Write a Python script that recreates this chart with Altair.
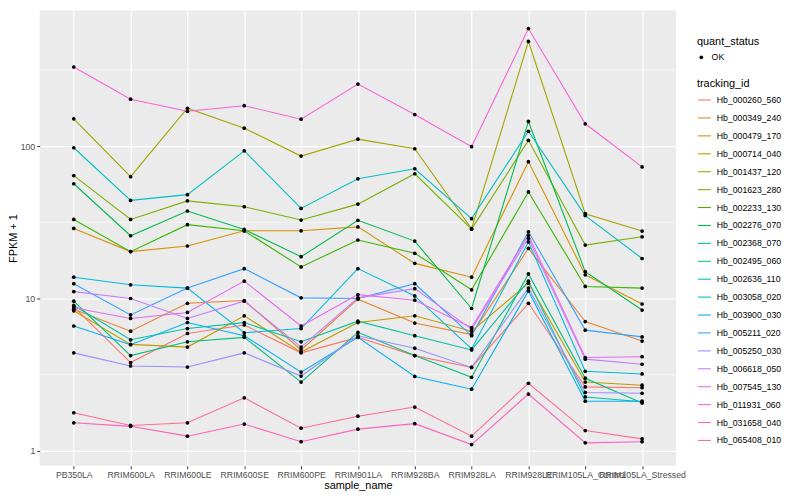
import altair as alt
import pandas as pd

samples = ["PB350LA", "RRIM600LA", "RRIM600LE", "RRIM600SE", "RRIM600PE", "RRIM901LA",
           "RRIM928BA", "RRIM928LA", "RRIM928LE", "RRIM105LA_Control", "RRIM105LA_Stressed"]

tracking_ids = ["Hb_000260_560", "Hb_000349_240", "Hb_000479_170", "Hb_000714_040",
                "Hb_001437_120", "Hb_001623_280", "Hb_002233_130", "Hb_002276_070",
                "Hb_002368_070", "Hb_002495_060", "Hb_002636_110", "Hb_003058_020",
                "Hb_003900_030", "Hb_005211_020", "Hb_005250_030", "Hb_006618_050",
                "Hb_007545_130", "Hb_011931_060", "Hb_031658_040", "Hb_065408_010"]

line_colors = ["#F8766D", "#EA8331", "#D89000", "#C09B00", "#A3A500", "#7CAE00", "#39B600",
               "#00BB4E", "#00BF7D", "#00C1A3", "#00BFC4", "#00BAE0", "#00B0F6", "#35A2FF",
               "#9590FF", "#C77CFF", "#E76BF3", "#FA62DB", "#FF62BC", "#FF6C91"]

# FPKM + 1 per sample (same order as samples)
hb_000260_560 = [8.8, 3.8, 5.9, 6.7, 4.4, 5.56, 4.22, 3.53, 9.3, 2.63, 2.6]
hb_000349_240 = [8.5, 6.1, 9.3, 9.7, 4.6, 9.9, 6.9, 5.8, 21.3, 7.06, 5.26]
hb_000479_170 = [28.8, 20.3, 22.1, 27.8, 27.8, 29.5, 17.0, 13.8, 79, 14.3, 9.2]
hb_000714_040 = [8.3, 5.0, 4.8, 7.7, 4.45, 6.95, 7.7, 6.1, 12.6, 2.83, 2.7]
hb_001437_120 = [151, 63, 177, 131, 86, 111, 96, 28.7, 486, 36, 27.7]
hb_001623_280 = [64, 33, 43.7, 40, 32.7, 41.6, 65.8, 28.5, 109, 22.4, 25.4]
hb_002233_130 = [33, 20.3, 30.5, 27.8, 16.1, 24.2, 19.8, 11.4, 50, 12.0, 11.7]
hb_002276_070 = [56.6, 25.8, 37.5, 28.4, 18.8, 32.6, 23.8, 8.6, 145, 15.0, 8.4]
hb_002368_070 = [9.6, 4.22, 5.2, 5.56, 2.83, 6.0, 4.22, 3.04, 14.5, 3.0, 2.06]
hb_002495_060 = [9.0, 5.36, 6.35, 6.95, 5.2, 7.1, 5.7, 4.6, 13.0, 2.26, 2.1]
hb_002636_110 = [97.5, 44, 48, 93, 39, 61, 71, 33.4, 125, 35, 18.3]
hb_003058_020 = [13.8, 12.3, 11.7, 5.96, 6.35, 15.7, 10.4, 4.67, 23.5, 3.33, 3.2]
hb_003900_030 = [6.6, 4.98, 6.95, 5.7, 3.29, 5.56, 3.08, 2.54, 11.2, 2.12, 2.12]
hb_005211_020 = [12.5, 7.8, 11.7, 15.7, 10.1, 10.0, 12.5, 5.7, 27.4, 6.2, 5.6]
hb_005250_030 = [4.4, 3.61, 3.55, 4.4, 3.1, 5.7, 4.72, 3.53, 11.7, 2.42, 2.39]
hb_006618_050 = [11.1, 10.0, 7.4, 9.6, 4.8, 10.1, 11.6, 6.3, 24.8, 4.0, 3.7]
hb_007545_130 = [8.7, 7.4, 8.1, 13.0, 6.6, 10.6, 9.75, 6.45, 26, 4.1, 4.15]
hb_011931_060 = [330, 203, 169, 184, 150, 255, 161, 99, 590, 140, 73]
hb_031658_040 = [1.53, 1.45, 1.25, 1.5, 1.15, 1.39, 1.51, 1.1, 2.36, 1.13, 1.15]
hb_065408_010 = [1.78, 1.47, 1.53, 2.23, 1.41, 1.69, 1.94, 1.25, 2.78, 1.36, 1.2]

series = [hb_000260_560, hb_000349_240, hb_000479_170, hb_000714_040, hb_001437_120,
          hb_001623_280, hb_002233_130, hb_002276_070, hb_002368_070, hb_002495_060,
          hb_002636_110, hb_003058_020, hb_003900_030, hb_005211_020, hb_005250_030,
          hb_006618_050, hb_007545_130, hb_011931_060, hb_031658_040, hb_065408_010]

y_major = [1, 10, 100]
y_minor = [3.1623, 31.623, 316.23]

rows = []
for tid, vals in zip(tracking_ids, series):
    for s, v in zip(samples, vals):
        rows.append({"tracking_id": tid, "sample_name": s, "fpkm": v, "quant_status": "OK"})
df = pd.DataFrame(rows)
minor_df = pd.DataFrame({"fpkm": y_minor})

FONT = "Liberation Sans"

x_enc = alt.X("sample_name:N", sort=samples, scale=alt.Scale(padding=0.6),
              axis=alt.Axis(labelAngle=0, title="sample_name", titlePadding=0.5,
                            labelPadding=1.5))
y_enc = alt.Y("fpkm:Q",
              scale=alt.Scale(type="log", domain=[0.7989, 775.6], nice=False, zero=False),
              axis=alt.Axis(values=y_major, format="d", title="FPKM + 1", titlePadding=1.5,
                            labelPadding=2))

minor = alt.Chart(minor_df).mark_rule(color="white", strokeWidth=0.6).encode(y=y_enc)

lines = alt.Chart(df).mark_line(strokeWidth=1.1).encode(
    x=x_enc,
    y=y_enc,
    color=alt.Color("tracking_id:N",
                    scale=alt.Scale(domain=tracking_ids, range=line_colors),
                    legend=alt.Legend(title="tracking_id", orient="none",
                                      legendX=664, legendY=68,
                                      symbolType="stroke", symbolSize=170,
                                      symbolStrokeWidth=1.1, rowPadding=5.1,
                                      labelOffset=5, titlePadding=4)),
    detail="tracking_id:N",
)

points = alt.Chart(df).mark_point(filled=True, color="black", size=14, opacity=1).encode(
    x=x_enc,
    y=y_enc,
    shape=alt.Shape("quant_status:N",
                    scale=alt.Scale(domain=["OK"], range=["circle"]),
                    legend=alt.Legend(title="quant_status", orient="none",
                                      legendX=664, legendY=26,
                                      symbolSize=14, symbolFillColor="black",
                                      labelOffset=6, titlePadding=6)),
)

chart = alt.layer(minor, lines, points).properties(
    width=643, height=460,
    autosize=alt.AutoSizeParams(type="none"),
    padding={"left": 32, "top": 0, "right": 117, "bottom": 24},
).configure_view(
    fill="#EBEBEB", strokeWidth=0
).configure_axis(
    domain=False, grid=True, gridColor="white", gridWidth=1.2,
    tickColor="#333333", tickSize=3, tickWidth=1,
    labelColor="#4D4D4D", labelFontSize=8.8, labelFont=FONT,
    titleFont=FONT, titleFontSize=11, titleFontWeight="normal", titleColor="black",
).configure_legend(
    titleFont=FONT, titleFontSize=11, titleFontWeight="normal", titleColor="black",
    labelFont=FONT, labelFontSize=8.8, labelColor="black", padding=0,
)

chart.save("out.html", embed_options={"renderer": "svg", "actions": False})
